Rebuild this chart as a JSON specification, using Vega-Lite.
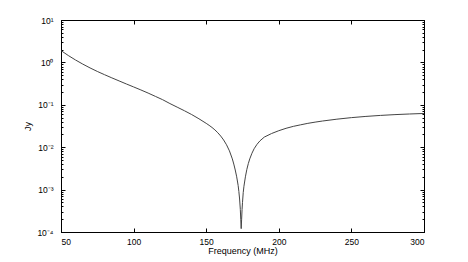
{
  "$schema": "https://vega.github.io/schema/vega-lite/v6.json",
  "autosize": "none",
  "width": 363,
  "height": 212,
  "padding": {"left": 61, "top": 20, "right": 44, "bottom": 30},
  "background": "white",
  "config": {
    "view": {"stroke": "black", "strokeWidth": 1},
    "axis": {
      "domainColor": "black",
      "tickColor": "black",
      "labelColor": "black",
      "titleColor": "black",
      "labelFont": "Liberation Sans",
      "titleFont": "Liberation Sans",
      "labelFontSize": 8.5,
      "titleFontSize": 9,
      "titleFontWeight": "normal",
      "grid": false
    }
  },
  "data": {
    "values": [
      {"f": 50, "jy": 1.9},
      {"f": 55, "jy": 1.455},
      {"f": 60, "jy": 1.14},
      {"f": 65, "jy": 0.912},
      {"f": 70, "jy": 0.741},
      {"f": 75, "jy": 0.612},
      {"f": 80, "jy": 0.513},
      {"f": 85, "jy": 0.432},
      {"f": 90, "jy": 0.366},
      {"f": 95, "jy": 0.31},
      {"f": 100, "jy": 0.264},
      {"f": 105, "jy": 0.224},
      {"f": 110, "jy": 0.189},
      {"f": 115, "jy": 0.158},
      {"f": 120, "jy": 0.132},
      {"f": 125, "jy": 0.107},
      {"f": 130, "jy": 0.088},
      {"f": 135, "jy": 0.0724},
      {"f": 140, "jy": 0.0589},
      {"f": 145, "jy": 0.0468},
      {"f": 150, "jy": 0.0365},
      {"f": 152, "jy": 0.0328},
      {"f": 154, "jy": 0.0292},
      {"f": 156, "jy": 0.0256},
      {"f": 158, "jy": 0.0219},
      {"f": 160, "jy": 0.0183},
      {"f": 162, "jy": 0.0148},
      {"f": 164, "jy": 0.0114},
      {"f": 166, "jy": 0.0082},
      {"f": 168, "jy": 0.0053},
      {"f": 169, "jy": 0.004},
      {"f": 170, "jy": 0.0029},
      {"f": 171, "jy": 0.002},
      {"f": 172, "jy": 0.00125},
      {"f": 172.5, "jy": 0.0009},
      {"f": 173, "jy": 0.0006},
      {"f": 173.5, "jy": 0.00034},
      {"f": 173.8, "jy": 0.0002},
      {"f": 174.1, "jy": 0.00012},
      {"f": 174.4, "jy": 0.0002},
      {"f": 174.7, "jy": 0.00034},
      {"f": 175, "jy": 0.0005},
      {"f": 175.5, "jy": 0.00085},
      {"f": 176, "jy": 0.0012},
      {"f": 177, "jy": 0.002},
      {"f": 178, "jy": 0.003},
      {"f": 179, "jy": 0.0041},
      {"f": 180, "jy": 0.0053},
      {"f": 181.5, "jy": 0.0072},
      {"f": 183, "jy": 0.0092},
      {"f": 185, "jy": 0.0117},
      {"f": 187, "jy": 0.0141},
      {"f": 190, "jy": 0.0173},
      {"f": 195, "jy": 0.021},
      {"f": 200, "jy": 0.0245},
      {"f": 205, "jy": 0.0279},
      {"f": 210, "jy": 0.031},
      {"f": 215, "jy": 0.0337},
      {"f": 220, "jy": 0.0365},
      {"f": 225, "jy": 0.039},
      {"f": 230, "jy": 0.0414},
      {"f": 240, "jy": 0.0458},
      {"f": 250, "jy": 0.0498},
      {"f": 260, "jy": 0.0532},
      {"f": 270, "jy": 0.0562},
      {"f": 280, "jy": 0.0587},
      {"f": 290, "jy": 0.0607},
      {"f": 300, "jy": 0.0625}
    ]
  },
  "layer": [
    {
      "mark": {"type": "line", "color": "#444444", "strokeWidth": 1, "clip": true},
      "encoding": {
        "x": {
          "field": "f", "type": "quantitative",
          "scale": {"domain": [50, 300], "nice": false, "zero": false},
          "axis": {
            "orient": "bottom",
            "values": [50, 100, 150, 200, 250, 300],
            "tickSize": -4,
            "labelPadding": 9,
            "title": "Frequency (MHz)",
            "titlePadding": 1
          }
        },
        "y": {
          "field": "jy", "type": "quantitative",
          "scale": {"type": "log", "domain": [0.0001, 10], "nice": false},
          "axis": {
            "orient": "left",
            "values": [0.0001, 0.0002, 0.0003, 0.0004, 0.0005, 0.0006, 0.0007, 0.0008, 0.0009,
                       0.001, 0.002, 0.003, 0.004, 0.005, 0.006, 0.007, 0.008, 0.009,
                       0.01, 0.02, 0.03, 0.04, 0.05, 0.06, 0.07, 0.08, 0.09,
                       0.1, 0.2, 0.3, 0.4, 0.5, 0.6, 0.7, 0.8, 0.9,
                       1, 2, 3, 4, 5, 6, 7, 8, 9, 10],
            "labelExpr": "abs(log(datum.value)/LN10 - round(log(datum.value)/LN10)) < 0.001 ? ['10⁻⁴','10⁻³','10⁻²','10⁻¹','10⁰','10¹'][round(log(datum.value)/LN10)+4] : ''",
            "tickSize": {"condition": {"test": "abs(log(datum.value)/LN10 - round(log(datum.value)/LN10)) < 0.001", "value": -4}, "value": -2},
            "labelPadding": 12,
            "labelBaseline": "middle",
            "title": "Jy",
            "titlePadding": 4
          }
        }
      }
    },
    {
      "mark": {"type": "line", "opacity": 0},
      "encoding": {
        "x": {
          "field": "f", "type": "quantitative",
          "scale": {"domain": [50, 300], "nice": false, "zero": false},
          "axis": {
            "orient": "top",
            "values": [50, 100, 150, 200, 250, 300],
            "tickSize": -4,
            "labels": false,
            "title": null
          }
        },
        "y": {
          "field": "jy", "type": "quantitative",
          "scale": {"type": "log", "domain": [0.0001, 10], "nice": false},
          "axis": {
            "orient": "right",
            "values": [0.0001, 0.0002, 0.0003, 0.0004, 0.0005, 0.0006, 0.0007, 0.0008, 0.0009,
                       0.001, 0.002, 0.003, 0.004, 0.005, 0.006, 0.007, 0.008, 0.009,
                       0.01, 0.02, 0.03, 0.04, 0.05, 0.06, 0.07, 0.08, 0.09,
                       0.1, 0.2, 0.3, 0.4, 0.5, 0.6, 0.7, 0.8, 0.9,
                       1, 2, 3, 4, 5, 6, 7, 8, 9, 10],
            "tickSize": {"condition": {"test": "abs(log(datum.value)/LN10 - round(log(datum.value)/LN10)) < 0.001", "value": -4}, "value": -2},
            "labels": false,
            "title": null
          }
        }
      }
    }
  ],
  "resolve": {"axis": {"x": "independent", "y": "independent"}}
}
